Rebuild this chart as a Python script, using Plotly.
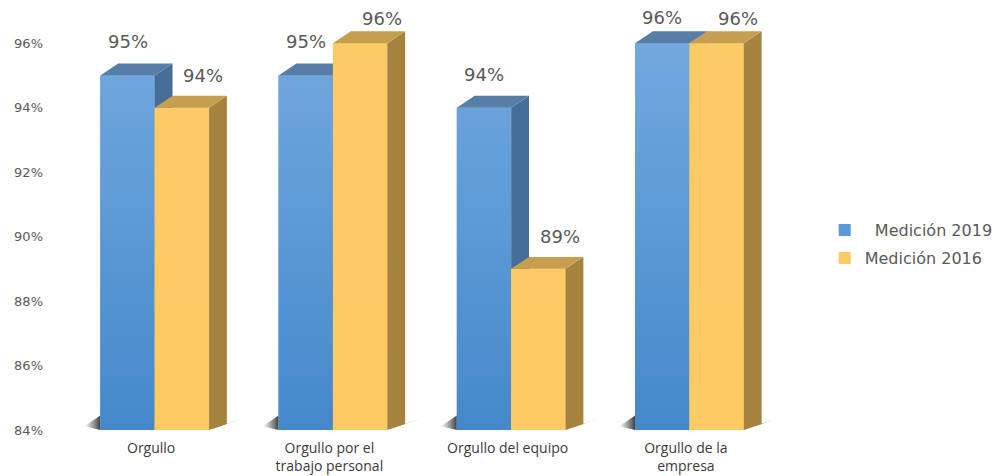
import plotly.graph_objects as go

categories = ["Orgullo", "Orgullo por el<br>trabajo personal", "Orgullo del equipo", "Orgullo de la<br>empresa"]
series_names = ["\u00a0\u00a0Medición 2019", "Medición 2016"]
med_2019 = [95, 95, 94, 96]
med_2016 = [94, 96, 89, 96]
y_ticks = [84, 86, 88, 90, 92, 94, 96]

BASE = 84
W = 0.305   # bar width (x units)
DX = 0.10   # 3D depth, x units
DY = 0.37   # 3D depth, y units
SHIFT = 0.02

front = {"2019": "#5b9ad6", "2016": "#fdca64"}
grad = {"2019": ("#4488cb", "#72a8de"), "2016": ("#fdca64", "#fdcb66")}
top = {"2019": "#567ea9", "2016": "#c69e50"}
side = {"2019": "#466d96", "2016": "#a6823f"}

xs = [i + SHIFT for i in range(len(categories))]

def faces(values, offset):
    tx, ty, sx, sy, fx, fy = [], [], [], [], [], []
    for c, v in zip(xs, values):
        x0 = c + offset
        x1 = x0 + W
        tx += [x0, x1, x1 + DX, x0 + DX, x0, None]
        ty += [v, v, v + DY, v + DY, v, None]
        sx += [x1, x1, x1 + DX, x1 + DX, x1, None]
        sy += [BASE, v, v + DY, BASE + DY * 0.5, BASE, None]
        fx += [x0, x1, x1, x0, x0, None]
        fy += [BASE, BASE, v, v, BASE, None]
    return tx, ty, sx, sy, fx, fy

fig = go.Figure()

# base shadows
for c in xs:
    xl = c - W
    fig.add_trace(go.Scatter(
        x=[xl - 0.09, xl, xl, xl - 0.09], y=[BASE + 0.12, BASE + 0.45, BASE, BASE + 0.12],
        fill="toself", mode="none", showlegend=False, hoverinfo="skip", zorder=-1,
        fillgradient=dict(type="horizontal", start=xl - 0.09, stop=xl,
                          colorscale=[[0, "rgba(60,60,60,0)"], [1, "rgba(30,30,30,0.85)"]])))
    xr = c + W + DX
    fig.add_trace(go.Scatter(
        x=[c + W, xr, xr + 0.13, c + W], y=[BASE, BASE + DY * 0.5, BASE + 0.45, BASE],
        fill="toself", mode="none", showlegend=False, hoverinfo="skip", zorder=-1,
        fillgradient=dict(type="horizontal", start=c + W, stop=xr + 0.13,
                          colorscale=[[0, "rgba(30,30,30,0.9)"], [1, "rgba(60,60,60,0)"]])))

for key, vals, off, z, name in [("2019", med_2019, -W, 0, series_names[0]),
                                ("2016", med_2016, 0.0, 1, series_names[1])]:
    tx, ty, sx, sy, fx, fy = faces(vals, off)
    fig.add_trace(go.Bar(
        x=xs, y=[v - BASE for v in vals], base=BASE, width=W, offset=off,
        marker=dict(color=front[key], line=dict(width=0)), name=name,
        legendgroup=key, zorder=z, hoverinfo="skip"))
    fig.add_trace(go.Scatter(x=fx, y=fy, fill="toself", mode="none",
                             showlegend=False, hoverinfo="skip", zorder=z,
                             fillgradient=dict(type="vertical", start=BASE, stop=96,
                                               colorscale=[[0, grad[key][0]], [1, grad[key][1]]])))
    fig.add_trace(go.Scatter(x=sx, y=sy, fill="toself", mode="none",
                             fillcolor=side[key], showlegend=False,
                             hoverinfo="skip", zorder=z))
    fig.add_trace(go.Scatter(x=tx, y=ty, fill="toself", mode="none",
                             fillcolor=top[key], showlegend=False,
                             hoverinfo="skip", zorder=z))

label_font = dict(family="DejaVu Sans", size=18, color="#595959")
annotations = []
for c, v in zip(xs, med_2019):
    annotations.append(dict(x=c - W / 2, y=v, text=f"{v}%", showarrow=False,
                            yanchor="bottom", yshift=21 - max(0, v - 95) * 8,
                            font=label_font))
for c, v in zip(xs, med_2016):
    annotations.append(dict(x=c + W / 2 + 0.12, y=v, text=f"{v}%", showarrow=False,
                            yanchor="bottom", yshift=20 - max(0, v - 95) * 8,
                            font=label_font))

fig.update_layout(
    width=996, height=476,
    margin=dict(l=62, r=221, t=11, b=46),
    paper_bgcolor="white", plot_bgcolor="white",
    barmode="overlay",
    showlegend=True,
    legend=dict(x=0.828, y=0.487, xref="container", yref="container",
                xanchor="left", yanchor="middle",
                font=dict(family="DejaVu Sans", size=16, color="#595959"),
                tracegroupgap=4, itemwidth=30, traceorder="grouped"),
    annotations=annotations,
    xaxis=dict(range=[-0.5, 3.5], tickvals=list(range(len(categories))),
               ticktext=categories, showgrid=False, zeroline=False,
               showline=True, linecolor="#dcdcdc", linewidth=2,
               ticklabelstandoff=4, automargin=False,
               tickfont=dict(family="Open Sans", size=14, color="#3a3a3a"),
               ticks=""),
    yaxis=dict(range=[BASE, 97], tickmode="array", tickvals=y_ticks,
               ticktext=[f"{t}%" for t in y_ticks],
               showgrid=False, zeroline=False, showline=False,
               ticklabelstandoff=18, automargin=False,
               tickfont=dict(family="DejaVu Sans", size=13, color="#595959")),
)

fig.write_html("out.html")
